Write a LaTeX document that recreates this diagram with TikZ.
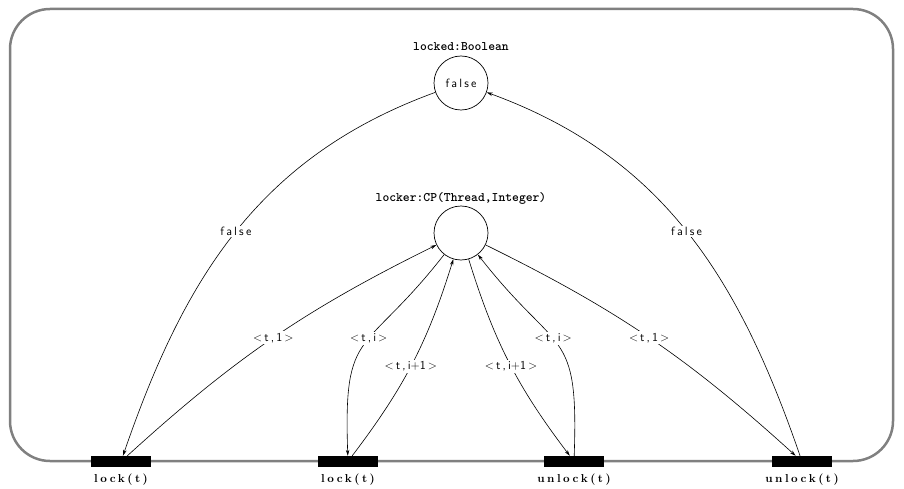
\documentclass[tikz,border=0pt]{standalone}
\usepackage{fontspec}
\usepackage{tikz}
\usetikzlibrary{arrows.meta}
\newfontfamily\inscfont[LetterSpace=18]{lmsans10-regular.otf}
\newfontfamily\typefont{lmmonolt10-bold.otf}
\newfontfamily\transfont[LetterSpace=22]{lmroman10-bold.otf}
\definecolor{framegray}{HTML}{808080}
\tikzset{place/.style={circle,draw,line width=.7pt,minimum size=54pt,inner sep=0pt,font={\inscfont\fontsize{12}{12}\selectfont}},
trans/.style={fill=black,minimum width=60pt,minimum height=11pt,inner sep=0pt},
flow/.style={-{Stealth[length=6pt,width=3.5pt]},line width=.6pt},
insc/.style={fill=white,inner sep=1.5pt,font={\inscfont\fontsize{12}{12}\selectfont}},
typelbl/.style={font={\typefont\fontsize{13}{13}\selectfont}},
translbl/.style={font={\transfont\fontsize{11.5}{11.5}\selectfont}}}

\begin{document}
\begin{tikzpicture}[x=1pt,y=1pt]
\useasboundingbox (0,0) rectangle (904,-489);
\draw[framegray,line width=2.5pt,rounded corners=40pt] (10,-461) rectangle (893,-9);
% places
\node[place] (locked) at (461,-83) {false};
\node[typelbl] (lockedtype) at (461,-47) {locked:Boolean};
\node[place] (locker) at (461,-233) {};
\node[typelbl] (lockertype) at (461,-198) {locker:CP(Thread,Integer)};
% transitions
\foreach \name/\x/\txt in {lockA/121/lock(t),lockB/348/lock(t),unlockA/574/unlock(t),unlockB/802/unlock(t)} {
\node[trans] (\name) at (\x,-461.5) {};
\node[translbl] (\name-lbl) at (\x,-480) {\txt};}
% arcs
\draw[flow] (locked) to[out=200,in=71] node[insc] (falseA) {false} (lockA);
\draw[flow] (unlockB) to[out=109,in=-20] node[insc] (falseB) {false} (locked);
\draw[flow] (lockA) to[bend left=8] node[insc] (tupA) {$<$\,t,1\,$>$} (locker);
\draw[flow] (locker) to[out=232,in=92,looseness=1.5] node[insc,pos=.45] (tupB) {$<$\,t,i\,$>$} (lockB);
\draw[flow] (lockB) to[bend right=10] node[insc,pos=.48] (tupC) {$<$\,t,i$+$1\,$>$} (locker);
\draw[flow] (locker) to[bend right=10] node[insc,pos=.52] (tupD) {$<$\,t,i$+$1\,$>$} (unlockA);
\draw[flow] (unlockA) to[out=88,in=-52,looseness=1.5] node[insc,pos=.55] (tupE) {$<$\,t,i\,$>$} (locker);
\draw[flow] (locker) to[bend left=8] node[insc] (tupF) {$<$\,t,1\,$>$} (unlockB);
\end{tikzpicture}
\end{document}
